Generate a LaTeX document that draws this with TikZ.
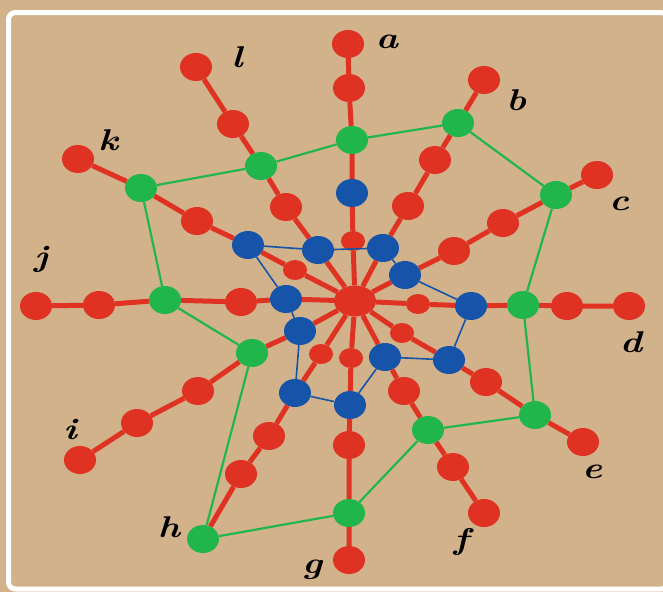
\documentclass[tikz,border=0pt]{standalone}
\usepackage{tikz}
\usetikzlibrary{shapes.geometric}
\definecolor{sand}{RGB}{210,178,138}
\definecolor{spokered}{RGB}{224,50,34}
\definecolor{webblue}{RGB}{22,84,170}
\definecolor{ringgreen}{RGB}{32,182,76}

\begin{document}
\begin{tikzpicture}[x=1pt,y=-1pt,
    dot/.style={ellipse,inner sep=0pt,minimum width=32pt,minimum height=28pt},
    rdot/.style={dot,fill=spokered},
    gdot/.style={dot,fill=ringgreen},
    bdot/.style={dot,fill=webblue},
    sdot/.style={ellipse,inner sep=0pt,minimum width=24pt,minimum height=20pt,fill=spokered},
    hub/.style={ellipse,inner sep=0pt,minimum width=42pt,minimum height=31pt,fill=spokered},
    spoke/.style={spokered,line width=5pt},
    ring/.style={ringgreen,line width=2.2pt},
    web/.style={webblue,line width=1.6pt},
    lab/.style={inner sep=0pt,xscale=1.25,font=\fontsize{30}{30}\selectfont\bfseries\itshape}]
  \useasboundingbox (0,0) rectangle (663,592);
  \fill[sand] (0,0) rectangle (663,592);
  \draw[white,line width=5pt,rounded corners=7pt] (8.5,12.5) rectangle (668,589);

  \node[hub] (hub) at (355,301) {};

  \node[rdot] (a1) at (348,44) {};
  \node[rdot] (a2) at (349,88) {};
  \node[gdot] (a3) at (352,140) {};
  \node[bdot] (a4) at (352,193) {};
  \node[sdot] (a5) at (353,241) {};

  \node[rdot] (b1) at (484,80) {};
  \node[gdot] (b2) at (458,123) {};
  \node[rdot] (b3) at (435,160) {};
  \node[rdot] (b4) at (408,206) {};
  \node[bdot] (b5) at (383,248) {};

  \node[rdot] (c1) at (597,175) {};
  \node[gdot] (c2) at (556,195) {};
  \node[rdot] (c3) at (503,223) {};
  \node[rdot] (c4) at (454,251) {};
  \node[bdot] (c5) at (405,275) {};

  \node[rdot] (d1) at (629,306) {};
  \node[rdot] (d2) at (567,306) {};
  \node[gdot] (d3) at (523,305) {};
  \node[bdot] (d4) at (471,306) {};
  \node[sdot] (d5) at (418,304) {};

  \node[rdot] (e1) at (583,442) {};
  \node[gdot] (e2) at (535,415) {};
  \node[rdot] (e3) at (486,382) {};
  \node[bdot] (e4) at (449,360) {};
  \node[sdot] (e5) at (402,333) {};

  \node[rdot] (f1) at (484,513) {};
  \node[rdot] (f2) at (453,467) {};
  \node[gdot] (f3) at (428,430) {};
  \node[rdot] (f4) at (404,391) {};
  \node[bdot] (f5) at (385,357) {};

  \node[rdot] (g1) at (349,560) {};
  \node[gdot] (g2) at (349,513) {};
  \node[rdot] (g3) at (349,445) {};
  \node[bdot] (g4) at (350,405) {};
  \node[sdot] (g5) at (351,358) {};

  \node[gdot] (h1) at (203,539) {};
  \node[rdot] (h2) at (241,474) {};
  \node[rdot] (h3) at (269,436) {};
  \node[bdot] (h4) at (295,393) {};
  \node[sdot] (h5) at (321,354) {};

  \node[rdot] (i1) at (80,460) {};
  \node[rdot] (i2) at (137,423) {};
  \node[rdot] (i3) at (198,391) {};
  \node[gdot] (i4) at (252,353) {};
  \node[bdot] (i5) at (300,331) {};

  \node[rdot] (j1) at (36,306) {};
  \node[rdot] (j2) at (99,305) {};
  \node[gdot] (j3) at (165,300) {};
  \node[rdot] (j4) at (241,302) {};
  \node[bdot] (j5) at (286,299) {};

  \node[rdot] (k1) at (78,159) {};
  \node[gdot] (k2) at (141,188) {};
  \node[rdot] (k3) at (197,221) {};
  \node[bdot] (k4) at (248,245) {};
  \node[sdot] (k5) at (295,270) {};

  \node[rdot] (l1) at (196,67) {};
  \node[rdot] (l2) at (233,124) {};
  \node[gdot] (l3) at (261,166) {};
  \node[rdot] (l4) at (286,207) {};
  \node[bdot] (l5) at (318,250) {};

  \foreach \s in {a,...,l}
    \draw[spoke] (hub) -- (\s5) -- (\s4) -- (\s3) -- (\s2) -- (\s1);

  \draw[ring] (a3) -- (b2) -- (c2) -- (d3) -- (e2) -- (f3) -- (g2) -- (h1)
    -- (i4) -- (j3) -- (k2) -- (l3) -- (a3);
  \draw[web] (k4) -- (l5) -- (b5) -- (c5) -- (d4) -- (e4) -- (f5) -- (g4)
    -- (h4) -- (i5) -- (j5) -- (k4);

  \node[lab] (la) at (387,42) {a};
  \node[lab] (lb) at (516,100) {b};
  \node[lab] (lc) at (619,204) {c};
  \node[lab] (ld) at (631,342) {d};
  \node[lab] (le) at (592,472) {e};
  \node[lab] (lf) at (461,542) {f};
  \node[lab] (lg) at (312,570) {g};
  \node[lab] (lh) at (169,527) {h};
  \node[lab] (li) at (70,429) {i};
  \node[lab] (lj) at (41,259) {j};
  \node[lab] (lk) at (108,140) {k};
  \node[lab] (ll) at (237,57) {l};
\end{tikzpicture}
\end{document}
